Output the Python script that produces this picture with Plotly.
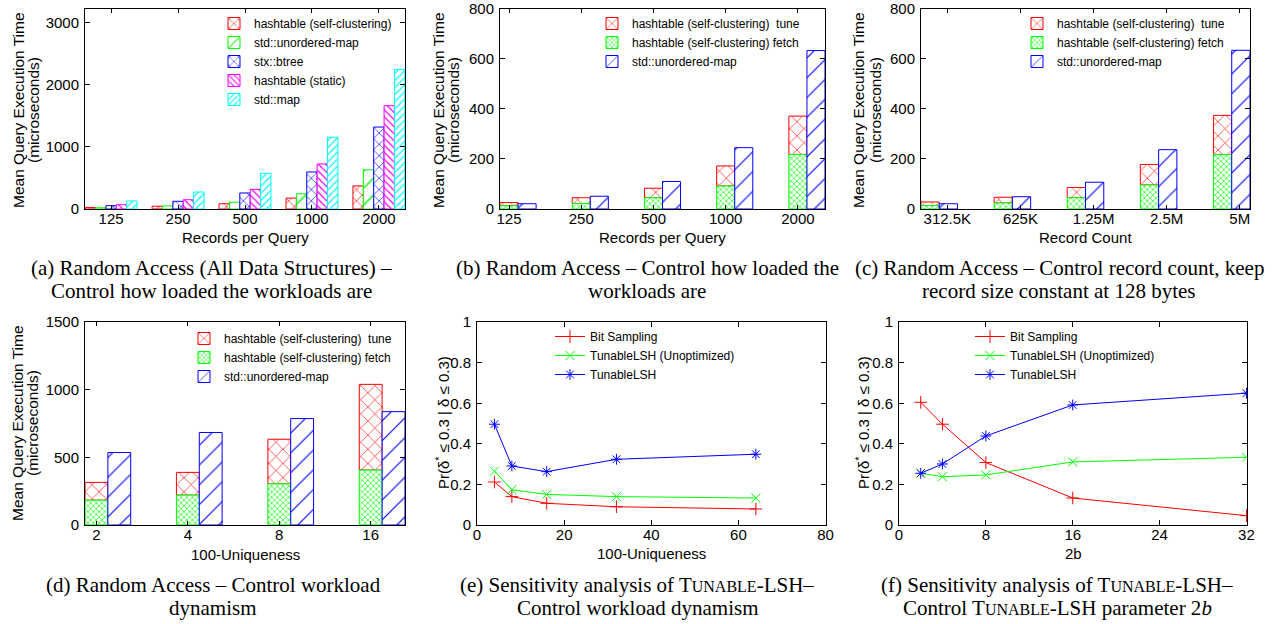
import plotly.graph_objects as go

# ---------------- data ----------------
records = ['125', '250', '500', '1000', '2000']
a_selfclust = [25, 45, 85, 175, 372]
a_unordered = [20, 50, 110, 245, 632]
a_btree = [54, 124, 258, 597, 1320]
a_static = [70, 150, 317, 726, 1665]
a_map = [129, 274, 575, 1156, 2250]

b_fetch = [13, 22, 45, 92, 218]
b_tune = [13, 23, 38, 80, 153]
b_unordered = [21, 51, 110, 245, 633]

counts = ['312.5K', '625K', '1.25M', '2.5M', '5M']
c_fetch = [14, 24, 45, 96, 217]
c_tune = [14, 23, 41, 82, 157]
c_unordered = [21, 49, 107, 237, 634]

uniq = ['2', '4', '8', '16']
d_fetch = [184, 221, 305, 406]
d_tune = [131, 168, 329, 634]
d_unordered = [536, 684, 787, 838]

e_x = [4, 8, 16, 32, 64]
e_bit = [0.212, 0.140, 0.107, 0.090, 0.079]
e_unopt = [0.265, 0.174, 0.151, 0.140, 0.133]
e_tunable = [0.497, 0.291, 0.263, 0.324, 0.349]

f_x = [2, 4, 8, 16, 32]
f_bit = [0.605, 0.497, 0.308, 0.133, 0.046]
f_unopt = [0.255, 0.238, 0.247, 0.311, 0.334]
f_tunable = [0.255, 0.301, 0.439, 0.592, 0.650]

# ---------------- style ----------------
W, H = 1274, 624
SANS = 'Liberation Sans'
SERIF = 'Liberation Serif'
RED, GREEN, BLUE, MAG, CYAN = '#ff0000', '#00ff00', '#0000ff', '#ff00ff', '#00ffff'


def px(x):
    return min(1.0, max(0.0, x / W))


def py(y):
    return min(1.0, max(0.0, 1 - y / H))


fig = go.Figure()


def bar(x, y, name, color, shape, size, sol, xa, ya, width, offset, legend, base=None):
    fig.add_trace(go.Bar(
        x=x, y=y, base=base, name=name, xaxis=xa, yaxis=ya, width=width, offset=offset,
        marker=dict(color='white', line=dict(color=color, width=1),
                    pattern=dict(shape=shape, size=size, solidity=sol, fgcolor=color,
                                 bgcolor='white', fillmode='replace')),
        legend=legend, showlegend=True))


def line(x, y, name, color, symbol, xa, ya, legend):
    fig.add_trace(go.Scatter(
        x=x, y=y, mode='lines+markers', name=name, xaxis=xa, yaxis=ya,
        line=dict(color=color, width=1),
        marker=dict(symbol=symbol, size=9, color=color, line=dict(color=color, width=1)),
        legend=legend))


# (a)
w = 0.155
bar(records, a_selfclust, 'hashtable (self-clustering)', RED, 'x', 8, 0.15, 'x', 'y', w, -2.5 * w, 'legend')
bar(records, a_unordered, 'std::unordered-map', GREEN, '/', 12, 0.12, 'x', 'y', w, -1.5 * w, 'legend')
bar(records, a_btree, 'stx::btree', BLUE, 'x', 8, 0.15, 'x', 'y', w, -0.5 * w, 'legend')
bar(records, a_static, 'hashtable (static)', MAG, '\\', 5, 0.25, 'x', 'y', w, 0.5 * w, 'legend')
bar(records, a_map, 'std::map', CYAN, '/', 5, 0.25, 'x', 'y', w, 1.5 * w, 'legend')

# (b),(c),(d)
bw = 0.25
for cats, fetch, tune, um, xa, ya, lg, off in [
        (records, b_fetch, b_tune, b_unordered, 'x2', 'y2', 'legend2', -0.125),
        (counts, c_fetch, c_tune, c_unordered, 'x3', 'y3', 'legend3', -0.36),
        (uniq, d_fetch, d_tune, d_unordered, 'x4', 'y4', 'legend4', -0.125)]:
    bar(cats, tune, 'hashtable (self-clustering)  tune', RED, 'x', 10, 0.12, xa, ya, bw, off, lg, base=fetch)
    bar(cats, fetch, 'hashtable (self-clustering) fetch', GREEN, 'x', 4, 0.3, xa, ya, bw, off, lg)
    bar(cats, um, 'std::unordered-map', BLUE, '/', 14, 0.08, xa, ya, bw, off + bw, lg)

# (e),(f)
for xs, bit, unopt, tun, xa, ya, lg in [
        (e_x, e_bit, e_unopt, e_tunable, 'x5', 'y5', 'legend5'),
        (f_x, f_bit, f_unopt, f_tunable, 'x6', 'y6', 'legend6')]:
    line(xs, bit, 'Bit Sampling', RED, 'cross-thin-open', xa, ya, lg)
    line(xs, unopt, 'TunableLSH (Unoptimized)', GREEN, 'x-thin-open', xa, ya, lg)
    line(xs, tun, 'TunableLSH', BLUE, 'asterisk-open', xa, ya, lg)


def axis(domain, anchor, **kw):
    d = dict(domain=domain, anchor=anchor, showline=True, linecolor='black', linewidth=1,
             mirror='ticks', ticks='inside', ticklen=5, tickcolor='black', showgrid=False,
             zeroline=False, automargin=False, ticklabeloverflow='allow',
             tickfont=dict(family=SANS, size=15, color='black'))
    d.update(kw)
    return d


def xax(domain, anchor, **kw):
    return axis(domain, anchor, ticklabelstandoff=-4, **kw)


def yax(domain, anchor, **kw):
    return axis(domain, anchor, ticklabelstandoff=2, **kw)


row1 = [py(209), py(8.5)]
row2 = [py(525), py(322)]

layout = dict(
    width=W, height=H, margin=dict(l=0, r=0, t=0, b=0, autoexpand=False),
    paper_bgcolor='white', plot_bgcolor='white', barmode='overlay',
    xaxis=xax([px(85), px(405)], 'y', type='category', range=[-0.39, 4.39], ticklen=4),
    yaxis=yax(row1, 'x', range=[0, 3230], tickvals=[0, 1000, 2000, 3000]),
    xaxis2=xax([px(500), px(825)], 'y2', type='category', range=[-0.125, 4.375], ticklen=4),
    yaxis2=yax(row1, 'x2', range=[0, 801], tickvals=[0, 200, 400, 600, 800]),
    xaxis3=xax([px(921), px(1250)], 'y3', type='category', range=[-0.36, 4.14], ticklen=4),
    yaxis3=yax(row1, 'x3', range=[0, 801], tickvals=[0, 200, 400, 600, 800]),
    xaxis4=xax([px(85), px(405)], 'y4', type='category', range=[-0.125, 3.375], ticklen=4),
    yaxis4=yax(row2, 'x4', range=[0, 1501], tickvals=[0, 500, 1000, 1500]),
    xaxis5=xax([px(477), px(826)], 'y5', range=[0, 80.1], tickvals=[0, 20, 40, 60, 80]),
    yaxis5=yax(row2, 'x5', range=[0, 1.001], tickvals=[0, 0.2, 0.4, 0.6, 0.8, 1]),
    xaxis6=xax([px(899), px(1247)], 'y6', range=[0, 32.05], tickvals=[0, 8, 16, 24, 32]),
    yaxis6=yax(row2, 'x6', range=[0, 1.001], tickvals=[0, 0.2, 0.4, 0.6, 0.8, 1]),
)

leg_common = dict(bgcolor='rgba(0,0,0,0)', font=dict(family=SANS, size=12, color='black'),
                  xanchor='right', yanchor='top', itemwidth=30, borderwidth=0)
for key, xr, yt in [('legend', 397, 9), ('legend2', 805, 9), ('legend3', 1230, 9),
                    ('legend4', 397, 324), ('legend5', 740, 322), ('legend6', 1160, 322)]:
    d = dict(leg_common)
    d.update(x=px(xr), y=py(yt))
    layout[key] = d

fig.update_layout(**layout)


def ann(text, x, y, size, family=SANS, angle=0, xanchor='center'):
    fig.add_annotation(text=text, x=px(x), y=py(y), xref='paper', yref='paper', showarrow=False,
                       font=dict(family=family, size=size, color='black'), textangle=angle,
                       xanchor=xanchor, yanchor='middle')


# axis titles
ann('Records per Query', 245, 237, 15)
ann('Records per Query', 662, 237, 15)
ann('Record Count', 1085, 237, 15)
ann('100-Uniqueness', 245, 554, 15)
ann('100-Uniqueness', 651, 553, 15)
ann('2b', 1073, 553, 15)

for xl1, xl2, yc in [(18, 33, 110), (438, 453, 110), (858, 875, 110), (17, 32, 423)]:
    ann('Mean Query Execution Time', xl1, yc, 15.5, angle=-90)
    ann('(microseconds)', xl2, yc, 15.5, angle=-90)

ann('Pr(δ<sup>*</sup> ≤ 0.3 | δ ≤ 0.3)', 442, 423, 15, angle=-90)
ann('Pr(δ<sup>*</sup> ≤ 0.3 | δ ≤ 0.3)', 862, 423, 15, angle=-90)

# captions
SC = '<span style="font-size:16px">UNABLE</span>'
caps = [
    (211, 268, '(a) Random Access (All Data Structures) –'),
    (211, 291, 'Control how loaded the workloads are'),
    (647, 268, '(b) Random Access – Control how loaded the'),
    (647, 291, 'workloads are'),
    (1059, 268, '(c) Random Access – Control record count, keep'),
    (1059, 291, 'record size constant at 128 bytes'),
    (213, 585, '(d) Random Access – Control workload'),
    (213, 608, 'dynamism'),
    (637, 585, '(e) Sensitivity analysis of T' + SC + '-LSH–'),
    (637, 608, 'Control workload dynamism'),
    (1057, 585, '(f) Sensitivity analysis of T' + SC + '-LSH–'),
    (1057, 608, 'Control T' + SC + '-LSH parameter 2<i>b</i>'),
]
for x, y, t in caps:
    ann(t, x, y, 21, family=SERIF)

fig.write_html('out.html', config={'displayModeBar': False},
               post_script="document.body.style.margin = '0px';")
